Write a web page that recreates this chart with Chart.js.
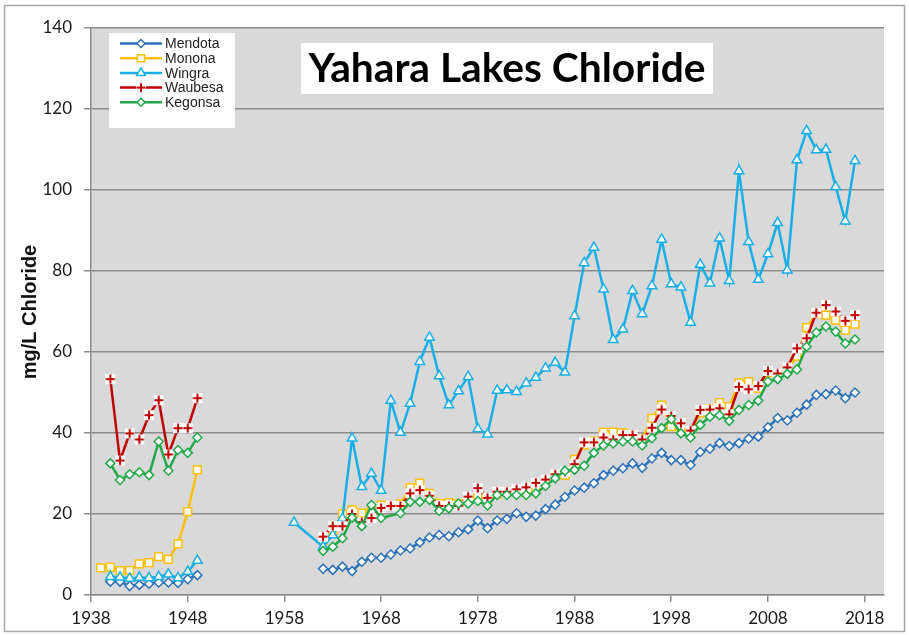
<!DOCTYPE html>
<html>
<head>
<meta charset="utf-8">
<title>Yahara Lakes Chloride</title>
<script src="https://cdn.jsdelivr.net/npm/chart.js@4.4.1/dist/chart.umd.min.js"></script>
<style>
  html, body { margin: 0; padding: 0; background: #fff; }
  #wrap { width: 909px; height: 635px; }
</style>
</head>
<body>
<div id="wrap"><canvas id="chlorideChart" width="909" height="635"></canvas></div>
<script>
const titleText = 'Yahara Lakes Chloride';
const yTitle = 'mg/L Chloride';

const lakes = ['Mendota', 'Monona', 'Wingra', 'Waubesa', 'Kegonsa'];
const xTicks = [1938, 1948, 1958, 1968, 1978, 1988, 1998, 2008, 2018];

const years = [
  1939, 1940, 1941, 1942, 1943, 1944, 1945, 1946, 1947, 1948, 1949,
  1959,
  1962, 1963, 1964, 1965, 1966, 1967, 1968, 1969, 1970, 1971,
  1972, 1973, 1974, 1975, 1976, 1977, 1978, 1979, 1980, 1981,
  1982, 1983, 1984, 1985, 1986, 1987, 1988, 1989, 1990, 1991,
  1992, 1993, 1994, 1995, 1996, 1997, 1998, 1999, 2000, 2001,
  2002, 2003, 2004, 2005, 2006, 2007, 2008, 2009, 2010, 2011,
  2012, 2013, 2014, 2015, 2016, 2017
];

// mg/L (null = no sample that year)
const mendota = [
  null, 3.3, 3.3, 2.2, 2.5, 2.8, 3.1, 3.1, 3.0, 3.9, 4.9,
  null,
  6.5, 6.2, 7.0, 5.9, 8.2, 9.2, 9.2, 10.0, 11.0, 11.5,
  13.0, 14.2, 14.8, 14.5, 15.5, 16.2, 18.4, 16.5, 18.4, 18.8,
  20.2, 19.3, 19.6, 21.2, 22.3, 24.2, 25.8, 26.5, 27.6, 29.6,
  30.7, 31.3, 32.5, 31.4, 33.7, 35.1, 33.3, 33.3, 32.1, 35.3,
  36.1, 37.5, 36.8, 37.5, 38.6, 39.1, 41.4, 43.7, 43.1, 45.0,
  47.0, 49.4, 49.6, 50.5, 48.6, 50.0
];
const monona = [
  6.7, 6.9, 6.0, 6.1, 7.7, 8.0, 9.5, 8.8, 12.6, 20.6, 30.9,
  null,
  13.5, 16.0, 20.0, 21.0, 20.2, 20.5, 22.2, 22.0, 22.5, 26.5,
  27.6, 25.1, 22.6, 22.8, 22.5, 23.5, 24.5, 23.0, 25.0, 25.5,
  25.5, 26.0, 26.5, 28.0, 29.5, 29.6, 33.5, 37.0, 38.0, 40.2,
  40.2, 40.0, 39.5, 38.5, 43.6, 46.9, 41.6, 41.0, 40.0, 45.0,
  46.0, 47.5, 46.5, 52.4, 52.7, 51.0, 55.0, 54.5, 55.5, 59.0,
  66.0, 69.5, 69.1, 67.9, 65.4, 66.9
];
const wingra = [
  null, 4.5, 4.4, 4.1, 4.3, 4.2, 4.5, 5.1, 4.2, 5.8, 8.5,
  17.9,
  11.9, 14.8, 18.9, 38.7, 26.7, 30.0, 25.8, 48.0, 40.1, 47.3,
  57.6, 63.6, 54.1, 46.9, 50.4, 53.9, 41.0, 39.7, 50.5, 50.6,
  50.2, 52.3, 53.7, 56.0, 57.4, 55.0, 68.9, 82.0, 85.8, 75.5,
  63.0, 65.6, 75.1, 69.4, 76.3, 87.8, 76.8, 76.0, 67.3, 81.6,
  77.0, 88.1, 77.6, 104.7, 87.2, 77.9, 84.2, 91.9, 80.2, 107.4,
  114.6, 109.9, 110.0, 100.8, 92.3, 107.2
];
const waubesa = [
  null, 53.3, 33.2, 39.9, 38.4, 44.4, 48.1, 34.7, 41.2, 41.2, 48.6,
  null,
  14.4, 17.0, 17.0, 20.0, 18.0, 19.0, 21.5, 22.0, 22.0, 25.1,
  25.9, 24.5, 22.0, 22.0, 22.0, 24.3, 26.4, 24.0, 25.5, 25.5,
  26.1, 26.6, 27.7, 28.5, 29.8, 30.5, 32.3, 37.7, 37.7, 38.9,
  38.4, 39.5, 39.5, 38.4, 41.3, 45.8, 44.2, 42.4, 40.6, 45.7,
  45.8, 46.1, 44.6, 51.4, 50.8, 51.6, 55.3, 54.7, 56.2, 60.9,
  63.4, 69.7, 71.6, 70.0, 67.7, 69.1
];
const kegonsa = [
  null, 32.5, 28.4, 29.8, 30.3, 29.6, 37.9, 30.7, 35.8, 35.1, 38.9,
  null,
  10.9, 11.9, 14.0, 19.1, 17.0, 22.2, 19.0, null, 20.2, 23.0,
  23.0, 23.5, 20.8, 21.4, 22.6, 22.6, 23.2, 22.1, 24.7, 24.7,
  24.7, 24.7, 25.1, 26.9, 28.8, 30.7, 30.9, 31.9, 35.1, 36.9,
  37.4, 37.9, 37.9, 36.9, 38.7, 41.2, 43.4, 39.9, 38.9, 42.0,
  44.0, 44.4, 43.0, 45.7, 46.9, 48.0, 52.7, 53.3, 54.6, 55.7,
  61.3, 64.8, 66.3, 65.0, 62.1, 63.1
];

const seriesValues = [mendota, monona, wingra, waubesa, kegonsa];
const colors = ['#2e72b8', '#ffc000', '#1aaee6', '#c00000', '#22a84a'];
const markers = ['rectRot', 'rect', 'triangle', 'cross', 'rectRot'];
const markerRadius = [4.5, 5.5, 5.5, 6, 4.5];

// excel style "+" marker: white box behind a red cross
function makeCross(color) {
  const c = document.createElement('canvas');
  c.width = 12;
  c.height = 12;
  const g = c.getContext('2d');
  g.fillStyle = 'rgba(255,255,255,0.95)';
  g.fillRect(1, 1, 10, 10);
  g.strokeStyle = color;
  g.lineWidth = 2;
  g.beginPath();
  g.moveTo(6, 1.5); g.lineTo(6, 10.5);
  g.moveTo(1.5, 6); g.lineTo(10.5, 6);
  g.stroke();
  return c;
}
const crossImg = makeCross(colors[3]);

function toPoints(vals) {
  return years.map((yr, i) => ({ x: yr, y: vals[i] })).filter(p => p.y !== null);
}

function drawMarker(ctx, style, x, y, r, color) {
  if (style === 'cross') {
    ctx.drawImage(crossImg, x - crossImg.width / 2, y - crossImg.height / 2);
    return;
  }
  ctx.save();
  ctx.fillStyle = '#fff';
  ctx.strokeStyle = color;
  ctx.lineWidth = 1.5;
  ctx.beginPath();
  if (style === 'rectRot') {
    ctx.moveTo(x, y - r); ctx.lineTo(x + r, y); ctx.lineTo(x, y + r); ctx.lineTo(x - r, y);
  } else if (style === 'rect') {
    const s = r * Math.SQRT1_2;
    ctx.rect(x - s, y - s, 2 * s, 2 * s);
  } else if (style === 'triangle') {
    ctx.moveTo(x, y - r);
    ctx.lineTo(x + r * 0.866, y + r * 0.5);
    ctx.lineTo(x - r * 0.866, y + r * 0.5);
  }
  ctx.closePath();
  ctx.fill();
  ctx.stroke();
  ctx.restore();
}

const backdropPlugin = {
  id: 'backdrop',
  beforeDraw(chart) {
    const { ctx, chartArea: a } = chart;
    ctx.save();
    ctx.fillStyle = '#fff';
    ctx.fillRect(0, 0, chart.width, chart.height);
    ctx.strokeStyle = '#a9a9a9';
    ctx.lineWidth = 1.5;
    ctx.strokeRect(4.5, 5.5, 900, 626);
    ctx.fillStyle = '#d9d9d9';
    ctx.fillRect(a.left, a.top, a.right - a.left, a.bottom - a.top);

    ctx.translate(30, 312);
    ctx.rotate(-Math.PI / 2);
    ctx.font = 'bold 20px "Liberation Sans", Arial, sans-serif';
    ctx.fillStyle = '#111';
    ctx.textAlign = 'center';
    ctx.textBaseline = 'middle';
    ctx.fillText(yTitle, 0, 0);
    ctx.restore();
  }
};

const boxesPlugin = {
  id: 'boxes',
  afterDatasetsDraw(chart) {
    const ctx = chart.ctx;
    ctx.save();

    // title box
    ctx.fillStyle = '#fff';
    ctx.fillRect(301, 43, 412, 51);
    let size = 36;
    ctx.font = `bold ${size}px Lato, "Open Sans", sans-serif`;
    size = size * 397 / ctx.measureText(titleText).width;
    ctx.font = `bold ${size.toFixed(1)}px Lato, "Open Sans", sans-serif`;
    ctx.fillStyle = '#000';
    ctx.textAlign = 'center';
    ctx.textBaseline = 'alphabetic';
    ctx.fillText(titleText, 507, 82);

    // legend box
    ctx.fillRect(109, 33, 126, 95);
    ctx.fillStyle = '#fff';
    ctx.fillRect(109, 33, 126, 95);
    ctx.font = '14px "Liberation Sans Narrow", "Liberation Sans", Arial, sans-serif';
    ctx.textAlign = 'left';
    ctx.textBaseline = 'middle';
    lakes.forEach((name, i) => {
      const y = 43.5 + i * 14.7;
      ctx.strokeStyle = colors[i];
      ctx.lineWidth = 2.5;
      ctx.beginPath();
      ctx.moveTo(120, y);
      ctx.lineTo(162, y);
      ctx.stroke();
      drawMarker(ctx, markers[i], 141, y, markerRadius[i] - 0.5, colors[i]);
      ctx.fillStyle = '#222';
      ctx.fillText(name, 165, y + 1);
    });
    ctx.restore();
  }
};

const datasets = lakes.map((name, i) => ({
  label: name,
  data: toPoints(seriesValues[i]),
  borderColor: colors[i],
  backgroundColor: colors[i],
  borderWidth: 2.5,
  pointStyle: markers[i] === 'cross' ? crossImg : markers[i],
  pointRadius: markerRadius[i],
  pointBorderWidth: 1.5,
  pointBorderColor: colors[i],
  pointBackgroundColor: '#fff',
  tension: 0,
  spanGaps: 5,
  order: lakes.length - i
}));

const gridGray = '#8c8c8c';
const tickFont = { family: 'Lato, "Open Sans", sans-serif', size: 17 };

new Chart(document.getElementById('chlorideChart'), {
  type: 'line',
  data: { datasets },
  options: {
    responsive: false,
    devicePixelRatio: 1,
    animation: false,
    layout: { padding: { left: 0, top: 28, right: 25, bottom: 0 } },
    plugins: {
      legend: { display: false },
      tooltip: { enabled: false },
      title: { display: false }
    },
    scales: {
      x: {
        type: 'linear',
        min: 1938,
        max: 2020,
        afterBuildTicks: scale => { scale.ticks = xTicks.map(v => ({ value: v })); },
        afterFit: scale => { scale.height = 40; },
        grid: { drawOnChartArea: false, drawTicks: true, tickLength: 7, color: gridGray, lineWidth: 1.5 },
        border: { display: true, color: gridGray, width: 1.5 },
        ticks: { font: tickFont, color: '#1a1a1a', padding: 6, maxRotation: 0, callback: v => String(v) }
      },
      y: {
        min: 0,
        max: 140,
        afterFit: scale => { scale.width = 91; },
        grid: { color: gridGray, lineWidth: 1.5, tickLength: 7 },
        border: { display: true, color: gridGray, width: 1.5 },
        ticks: { stepSize: 20, font: tickFont, color: '#1a1a1a', padding: 12 }
      }
    }
  },
  plugins: [backdropPlugin, boxesPlugin]
});
</script>
</body>
</html>
